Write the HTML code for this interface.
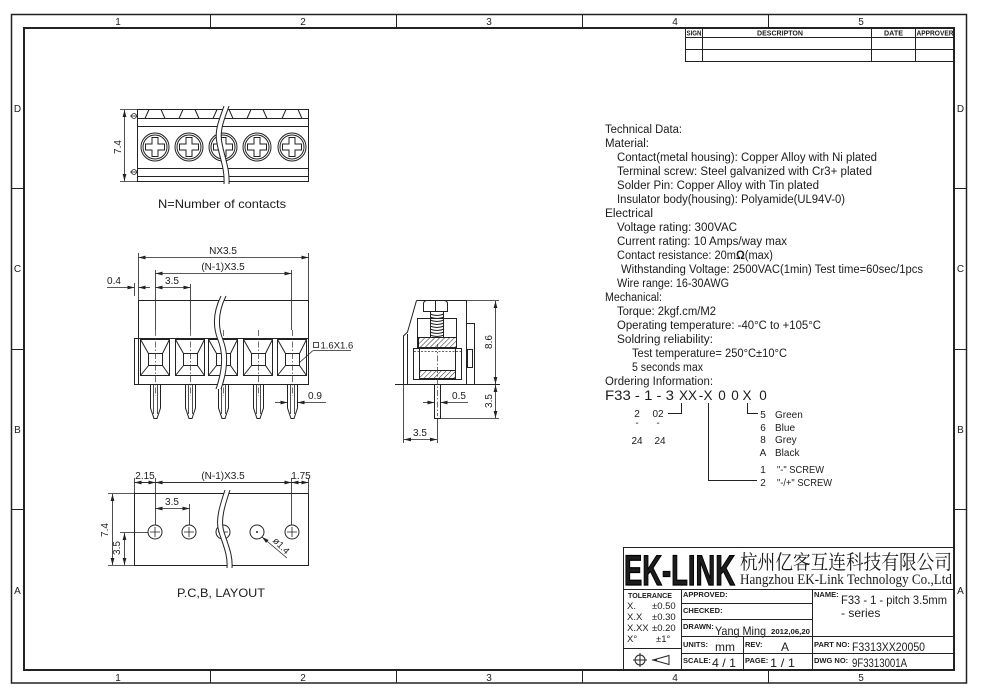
<!DOCTYPE html>
<html><head><meta charset="utf-8"><style>
html,body{margin:0;padding:0;background:#fff;}
svg{display:block;}
text{font-family:"Liberation Sans","Noto Sans CJK SC",sans-serif;fill:#1c1c1c;}
.l{stroke:#222;stroke-width:1;fill:none;}
.d{stroke:#222;stroke-width:0.8;fill:none;}
.dash{stroke:#333;stroke-width:0.7;fill:none;stroke-dasharray:6 2 1.5 2;}
.b{font-weight:bold;font-size:7.5px;}
</style></head><body>
<svg width="981" height="695" viewBox="0 0 981 695" xmlns="http://www.w3.org/2000/svg">
<defs>
<marker id="a" markerWidth="7" markerHeight="6" refX="7" refY="3" orient="auto-start-reverse" markerUnits="userSpaceOnUse"><path d="M0,1.1 L7,3 L0,4.9z" fill="#222"/></marker>
<pattern id="h" width="3.5" height="3.5" patternUnits="userSpaceOnUse" patternTransform="rotate(45)"><line x1="0" y1="0" x2="0" y2="3.5" stroke="#222" stroke-width="1"/></pattern>
</defs>
<rect width="981" height="695" fill="#fff"/>

<!-- Borders -->
<rect x="11.5" y="14.5" width="955" height="668.5" fill="none" stroke="#222" stroke-width="1.5"/>
<rect x="24" y="28" width="930" height="642" fill="none" stroke="#222" stroke-width="2"/>
<g class="l">
<line x1="210.5" y1="14" x2="210.5" y2="28"/><line x1="396.5" y1="14" x2="396.5" y2="28"/><line x1="582.5" y1="14" x2="582.5" y2="28"/><line x1="768.5" y1="14" x2="768.5" y2="28"/>
<line x1="210.5" y1="670" x2="210.5" y2="683"/><line x1="396.5" y1="670" x2="396.5" y2="683"/><line x1="582.5" y1="670" x2="582.5" y2="683"/><line x1="768.5" y1="670" x2="768.5" y2="683"/>
<line x1="11" y1="188.5" x2="24" y2="188.5"/><line x1="11" y1="349.5" x2="24" y2="349.5"/><line x1="11" y1="509.5" x2="24" y2="509.5"/>
<line x1="954" y1="188.5" x2="967" y2="188.5"/><line x1="954" y1="349.5" x2="967" y2="349.5"/><line x1="954" y1="509.5" x2="967" y2="509.5"/>
</g>
<g font-size="10" text-anchor="middle">
<text x="118" y="25">1</text><text x="303" y="25">2</text><text x="489" y="25">3</text><text x="675" y="25">4</text><text x="861" y="25">5</text>
<text x="118" y="681">1</text><text x="303" y="681">2</text><text x="489" y="681">3</text><text x="675" y="681">4</text><text x="861" y="681">5</text>
<text x="17.5" y="112">D</text><text x="17.5" y="272">C</text><text x="17.5" y="433">B</text><text x="17.5" y="594">A</text>
<text x="960.5" y="112">D</text><text x="960.5" y="272">C</text><text x="960.5" y="433">B</text><text x="960.5" y="594">A</text>
</g>

<!-- Revision table -->
<g class="l">
<rect x="685.5" y="28.5" width="269" height="33"/>
<line x1="685" y1="37.5" x2="954" y2="37.5"/>
<line x1="685" y1="49.5" x2="954" y2="49.5"/>
<line x1="702.5" y1="28" x2="702.5" y2="61"/>
<line x1="871.5" y1="28" x2="871.5" y2="61"/>
<line x1="915.5" y1="28" x2="915.5" y2="61"/>
</g>
<g font-weight="bold" font-size="7">
<text x="686.5" y="35.5" textLength="15" lengthAdjust="spacingAndGlyphs">SIGN</text>
<text x="757" y="35.5" textLength="46" lengthAdjust="spacingAndGlyphs">DESCRIPTON</text>
<text x="884" y="35.5" textLength="19" lengthAdjust="spacingAndGlyphs">DATE</text>
<text x="916.5" y="35.5" textLength="37" lengthAdjust="spacingAndGlyphs">APPROVER</text>
</g>

<!-- TOP VIEW -->
<g class="l">
<rect x="137.5" y="109.5" width="171" height="72"/>
<line x1="137" y1="118.5" x2="309" y2="118.5"/>
<line x1="137" y1="126.5" x2="309" y2="126.5"/>
<line x1="137" y1="168.5" x2="309" y2="168.5"/>
<line x1="137" y1="176.5" x2="309" y2="176.5"/>
<line x1="145" y1="118.5" x2="149" y2="109.5"/>
<line x1="161" y1="109.5" x2="165" y2="118.5"/><line x1="179" y1="118.5" x2="183" y2="109.5"/>
<line x1="195" y1="109.5" x2="199" y2="118.5"/><line x1="213" y1="118.5" x2="217" y2="109.5"/>
<line x1="229" y1="109.5" x2="233" y2="118.5"/><line x1="247" y1="118.5" x2="251" y2="109.5"/>
<line x1="263" y1="109.5" x2="267" y2="118.5"/><line x1="282" y1="118.5" x2="286" y2="109.5"/>
<line x1="298" y1="109.5" x2="302" y2="118.5"/>
</g>
<g class="l">
<circle cx="155" cy="147" r="14"/><circle cx="155" cy="147" r="12"/>
<path d="M152,137.5h6v6.5h6.5v6h-6.5v6.5h-6v-6.5h-6.5v-6h6.5z"/>
<circle cx="189" cy="147" r="14"/><circle cx="189" cy="147" r="12"/>
<path d="M186,137.5h6v6.5h6.5v6h-6.5v6.5h-6v-6.5h-6.5v-6h6.5z"/>
<circle cx="223" cy="147" r="14"/><circle cx="223" cy="147" r="12"/>
<path d="M220,137.5h6v6.5h6.5v6h-6.5v6.5h-6v-6.5h-6.5v-6h6.5z"/>
<circle cx="257" cy="147" r="14"/><circle cx="257" cy="147" r="12"/>
<path d="M254,137.5h6v6.5h6.5v6h-6.5v6.5h-6v-6.5h-6.5v-6h6.5z"/>
<circle cx="292" cy="147" r="14"/><circle cx="292" cy="147" r="12"/>
<path d="M289,137.5h6v6.5h6.5v6h-6.5v6.5h-6v-6.5h-6.5v-6h6.5z"/>
</g>
<path d="M224,106 C220,118 214,130 217,143 C219,156 225,168 224,184 L229,184 C230,168 224,156 222,143 C219,130 225,118 229,106 Z" fill="#fff"/>
<path class="l" d="M224,106 C220,118 214,130 217,143 C219,156 225,168 224,184"/>
<path class="l" d="M229,106 C225,118 219,130 222,143 C224,156 230,168 229,184"/>
<g class="d">
<line x1="120" y1="109.5" x2="137" y2="109.5"/>
<line x1="120" y1="181.5" x2="137" y2="181.5"/>
<line x1="124.5" y1="110" x2="124.5" y2="181" marker-start="url(#a)" marker-end="url(#a)"/>
<circle cx="134" cy="116" r="2.5"/><line x1="130" y1="116" x2="137" y2="116"/>
<circle cx="134" cy="172" r="2.5"/><line x1="130" y1="172" x2="137" y2="172"/>
</g>
<text transform="translate(121,147) rotate(-90)" text-anchor="middle" font-size="10">7.4</text>
<text x="222" y="208" text-anchor="middle" font-size="12" textLength="128" lengthAdjust="spacingAndGlyphs">N=Number of contacts</text>

<!-- FRONT VIEW -->
<g class="d">
<line x1="138.5" y1="257.5" x2="308.5" y2="257.5" marker-start="url(#a)" marker-end="url(#a)"/>
<line x1="155.5" y1="273.5" x2="291.5" y2="273.5" marker-start="url(#a)" marker-end="url(#a)"/>
<line x1="155.5" y1="287.5" x2="190.5" y2="287.5" marker-start="url(#a)" marker-end="url(#a)"/>
<line x1="107" y1="287.5" x2="134.5" y2="287.5" marker-end="url(#a)"/>
<line x1="150" y1="287.5" x2="138.5" y2="287.5" marker-end="url(#a)"/>
<line x1="138.5" y1="253" x2="138.5" y2="300"/>
<line x1="308.5" y1="253" x2="308.5" y2="300"/>
<line x1="155.5" y1="270" x2="155.5" y2="330"/>
<line x1="190.5" y1="284" x2="190.5" y2="330"/>
<line x1="291.5" y1="270" x2="291.5" y2="330"/>
<line x1="134.5" y1="283" x2="134.5" y2="296"/>
</g>
<g font-size="10" text-anchor="middle">
<text x="223" y="254">NX3.5</text>
<text x="223" y="270">(N-1)X3.5</text>
<text x="172" y="284">3.5</text>
<text x="114" y="284">0.4</text>
</g>
<g class="l">
<line x1="138" y1="300.5" x2="309" y2="300.5"/>
<line x1="138.5" y1="300" x2="138.5" y2="385"/>
<line x1="308.5" y1="300" x2="308.5" y2="385"/>
<line x1="134.5" y1="338" x2="134.5" y2="385"/>
<line x1="134" y1="338.5" x2="309" y2="338.5"/>
<line x1="134" y1="384.5" x2="309" y2="384.5"/>
</g>
<g class="l">
<rect x="140.5" y="339.5" width="29" height="36"/><rect x="148.5" y="353.5" width="14" height="12"/>
<path d="M140.5,339.5L148.5,353.5M169.5,339.5L162.5,353.5M140.5,375.5L148.5,365.5M169.5,375.5L162.5,365.5"/>
<rect x="175.5" y="339.5" width="29" height="36"/><rect x="183.5" y="353.5" width="14" height="12"/>
<path d="M175.5,339.5L183.5,353.5M204.5,339.5L197.5,353.5M175.5,375.5L183.5,365.5M204.5,375.5L197.5,365.5"/>
<rect x="208.5" y="339.5" width="29" height="36"/><rect x="216.5" y="353.5" width="14" height="12"/>
<path d="M208.5,339.5L216.5,353.5M237.5,339.5L230.5,353.5M208.5,375.5L216.5,365.5M237.5,375.5L230.5,365.5"/>
<rect x="243.5" y="339.5" width="29" height="36"/><rect x="251.5" y="353.5" width="14" height="12"/>
<path d="M243.5,339.5L251.5,353.5M272.5,339.5L265.5,353.5M243.5,375.5L251.5,365.5M272.5,375.5L265.5,365.5"/>
<rect x="277.5" y="339.5" width="29" height="36"/><rect x="285.5" y="353.5" width="14" height="12"/>
<path d="M277.5,339.5L285.5,353.5M306.5,339.5L299.5,353.5M277.5,375.5L285.5,365.5M306.5,375.5L299.5,365.5"/>
</g>
<g class="l">
<path d="M150.5,384.5V408L154,418.5H157L160.5,408V384.5"/><path class="d" d="M153.5,385V414M157.5,385V414"/>
<path d="M185.5,384.5V408L189,418.5H192L195.5,408V384.5"/><path class="d" d="M188.5,385V414M192.5,385V414"/>
<path d="M218.5,384.5V408L222,418.5H225L228.5,408V384.5"/><path class="d" d="M221.5,385V414M225.5,385V414"/>
<path d="M253.5,384.5V408L257,418.5H260L263.5,408V384.5"/><path class="d" d="M256.5,385V414M260.5,385V414"/>
<path d="M287.5,384.5V408L291,418.5H294L297.5,408V384.5"/><path class="d" d="M290.5,385V414M294.5,385V414"/>
</g>
<g class="dash">
<line x1="155.5" y1="330" x2="155.5" y2="396"/>
<line x1="190.5" y1="330" x2="190.5" y2="396"/>
<line x1="223.5" y1="330" x2="223.5" y2="396"/>
<line x1="258.5" y1="330" x2="258.5" y2="396"/>
<line x1="292.5" y1="330" x2="292.5" y2="396"/>
</g>
<path d="M221,296 C214,310 212,325 218,340 C224,355 222,372 216,389 L221,389 C227,372 229,355 223,340 C217,325 219,310 226,296 Z" fill="#fff"/>
<path class="l" d="M221,296 C214,310 212,325 218,340 C224,355 222,372 216,389"/>
<path class="l" d="M226,296 C219,310 217,325 223,340 C229,355 227,372 221,389"/>
<g class="d">
<line x1="275" y1="402.5" x2="287.5" y2="402.5" marker-end="url(#a)"/>
<line x1="326" y1="402.5" x2="297.5" y2="402.5" marker-end="url(#a)"/>
<rect x="313.5" y="342.5" width="5" height="5"/>
<line x1="313" y1="350.5" x2="351" y2="350.5"/>
<line x1="313" y1="350.5" x2="299" y2="363"/>
</g>
<text x="315" y="399" text-anchor="middle" font-size="10">0.9</text>
<text x="320.5" y="348.5" font-size="9.5">1.6X1.6</text>

<!-- SIDE VIEW -->
<g class="l">
<path d="M416.5,300.5 H466.5 V384.5 M466.5,323.5 H474.5 V384.5 M416.5,300.5 L407.5,332 L403.5,336 V384.5"/>
<line x1="407.5" y1="334" x2="407.5" y2="384"/>
<line x1="395" y1="384.5" x2="500" y2="384.5"/>
<path d="M423.5,311.5 V304 Q423.5,300.5 427,300.5 H444 Q447.5,300.5 447.5,304 V311.5 Z"/>
<line x1="435.5" y1="301" x2="435.5" y2="311"/>
<line x1="417.5" y1="318.5" x2="456.5" y2="318.5"/>
<line x1="417.5" y1="318" x2="417.5" y2="348"/>
<line x1="456.5" y1="318" x2="456.5" y2="348"/>
<path d="M430,314 Q437,317 444,314 M430,317 Q437,320 444,317 M430,320 Q437,323 444,320 M430,323 Q437,326 444,323 M430,326 Q437,329 444,326 M430,329 Q437,332 444,329 M430,332 Q437,335 444,332 M430,335 Q437,338 444,335"/>
<line x1="430.5" y1="312" x2="430.5" y2="337"/>
<line x1="443.5" y1="312" x2="443.5" y2="337"/>
<rect x="418.5" y="337.5" width="38" height="10" fill="url(#h)"/>
<rect x="413.5" y="348.5" width="48" height="31"/>
<line x1="419.5" y1="348" x2="419.5" y2="380"/>
<line x1="455.5" y1="348" x2="455.5" y2="380"/>
<rect x="419.5" y="370.5" width="36" height="8" fill="url(#h)"/>
<rect x="467.5" y="349.5" width="5" height="18"/>
<rect x="434.5" y="384.5" width="6" height="34"/>
</g>
<line class="dash" x1="437.5" y1="344" x2="437.5" y2="416"/>
<line x1="414" y1="351.5" x2="461" y2="351.5" stroke="#333" stroke-width="0.7" stroke-dasharray="2 1.5"/>
<g class="d">
<line x1="467" y1="300.5" x2="499" y2="300.5"/>
<line x1="441" y1="418.5" x2="499" y2="418.5"/>
<line x1="495.5" y1="301" x2="495.5" y2="384" marker-start="url(#a)" marker-end="url(#a)"/>
<line x1="495.5" y1="385" x2="495.5" y2="418" marker-start="url(#a)" marker-end="url(#a)"/>
<line x1="423" y1="402.5" x2="434.5" y2="402.5" marker-end="url(#a)"/>
<line x1="468" y1="402.5" x2="440.5" y2="402.5" marker-end="url(#a)"/>
<line x1="403.5" y1="384" x2="403.5" y2="443"/>
<line x1="437.5" y1="418" x2="437.5" y2="443"/>
<line x1="404" y1="439.5" x2="437" y2="439.5" marker-start="url(#a)" marker-end="url(#a)"/>
</g>
<text transform="translate(492,342) rotate(-90)" text-anchor="middle" font-size="10">8.6</text>
<text transform="translate(492,401) rotate(-90)" text-anchor="middle" font-size="10">3.5</text>
<text x="459" y="399" text-anchor="middle" font-size="10">0.5</text>
<text x="420" y="436" text-anchor="middle" font-size="10">3.5</text>

<!-- TECHNICAL DATA -->
<g font-size="11.5">
<text x="605" y="133" textLength="77" lengthAdjust="spacingAndGlyphs">Technical Data:</text>
<text x="605" y="147" textLength="44" lengthAdjust="spacingAndGlyphs">Material:</text>
<text x="617" y="161" textLength="260" lengthAdjust="spacingAndGlyphs">Contact(metal housing): Copper Alloy with Ni plated</text>
<text x="617" y="175" textLength="255" lengthAdjust="spacingAndGlyphs">Terminal screw: Steel galvanized with Cr3+ plated</text>
<text x="617" y="189" textLength="202" lengthAdjust="spacingAndGlyphs">Solder Pin: Copper Alloy with Tin plated</text>
<text x="617" y="203" textLength="228" lengthAdjust="spacingAndGlyphs">Insulator body(housing): Polyamide(UL94V-0)</text>
<text x="605" y="217" textLength="48" lengthAdjust="spacingAndGlyphs">Electrical</text>
<text x="617" y="231" textLength="120" lengthAdjust="spacingAndGlyphs">Voltage rating: 300VAC</text>
<text x="617" y="245" textLength="170" lengthAdjust="spacingAndGlyphs">Current rating: 10 Amps/way max</text>
<text x="617" y="259" textLength="156" lengthAdjust="spacingAndGlyphs">Contact resistance: 20m<tspan font-weight="bold">Ω</tspan>(max)</text>
<text x="621" y="273" textLength="302" lengthAdjust="spacingAndGlyphs">Withstanding Voltage: 2500VAC(1min) Test time=60sec/1pcs</text>
<text x="617" y="287" textLength="112" lengthAdjust="spacingAndGlyphs">Wire range: 16-30AWG</text>
<text x="605" y="301" textLength="57" lengthAdjust="spacingAndGlyphs">Mechanical:</text>
<text x="617" y="315" textLength="99" lengthAdjust="spacingAndGlyphs">Torque: 2kgf.cm/M2</text>
<text x="617" y="329" textLength="204" lengthAdjust="spacingAndGlyphs">Operating temperature: -40°C to +105°C</text>
<text x="617" y="343" textLength="96" lengthAdjust="spacingAndGlyphs">Soldring reliability:</text>
<text x="632" y="357" textLength="155" lengthAdjust="spacingAndGlyphs">Test temperature= 250°C±10°C</text>
<text x="632" y="371" textLength="71" lengthAdjust="spacingAndGlyphs">5 seconds max</text>
<text x="605" y="385" textLength="108" lengthAdjust="spacingAndGlyphs">Ordering Information:</text>
</g>
<g font-size="13.5">
<text x="605" y="400" textLength="69" lengthAdjust="spacingAndGlyphs">F33 - 1 - 3</text>
<text x="688" y="400" text-anchor="middle">XX</text>
<text x="701" y="400" text-anchor="middle">-</text>
<text x="708" y="400" text-anchor="middle">X</text>
<text x="722" y="400" text-anchor="middle">0</text>
<text x="735" y="400" text-anchor="middle">0</text>
<text x="747" y="400" text-anchor="middle">X</text>
<text x="763" y="400" text-anchor="middle">0</text>
</g>
<g class="l">
<path d="M681.5,403 V413.5 H668"/>
<path d="M708.5,403 V480.5 H757"/>
<path d="M747.5,403 V413.5 H758"/>
</g>
<g font-size="10">
<text x="637" y="417" text-anchor="middle">2</text>
<text x="658" y="417" text-anchor="middle">02</text>
<text x="637" y="426" text-anchor="middle">-</text>
<text x="658" y="426" text-anchor="middle">-</text>
<text x="637" y="444" text-anchor="middle">24</text>
<text x="660" y="444" text-anchor="middle">24</text>
<text x="763" y="418" text-anchor="middle">5</text><text x="775" y="418">Green</text>
<text x="763" y="431" text-anchor="middle">6</text><text x="775" y="431">Blue</text>
<text x="763" y="443" text-anchor="middle">8</text><text x="775" y="443">Grey</text>
<text x="763" y="456" text-anchor="middle">A</text><text x="775" y="456">Black</text>
<text x="763" y="473" text-anchor="middle">1</text><text x="777" y="473" textLength="47" lengthAdjust="spacingAndGlyphs">"-" SCREW</text>
<text x="763" y="486" text-anchor="middle">2</text><text x="777" y="486" textLength="55" lengthAdjust="spacingAndGlyphs">"-/+" SCREW</text>
</g>

<!-- PCB LAYOUT -->
<g class="l">
<rect x="134.5" y="493.5" width="174" height="72"/>
<circle cx="155" cy="532" r="7"/><circle cx="189" cy="532" r="7"/><circle cx="223" cy="532" r="7"/><circle cx="257" cy="532" r="7"/><circle cx="292" cy="532" r="7"/>
</g>
<g class="d">
<path d="M150,532h10M155,527v10M184,532h10M189,527v10M287,532h10M292,527v10M218,532h10M223,527v10"/>
</g>
<circle cx="257" cy="532" r="1" fill="#222"/>
<path d="M225,490 C220,505 215,520 219,532 C223,545 228,555 227,568 L232,568 C233,555 228,545 224,532 C220,520 225,505 230,490 Z" fill="#fff"/>
<path class="l" d="M225,490 C220,505 215,520 219,532 C223,545 228,555 227,568"/>
<path class="l" d="M230,490 C225,505 220,520 224,532 C228,545 233,555 232,568"/>
<g class="d">
<line x1="134.5" y1="482.5" x2="308.5" y2="482.5"/>
<line x1="134.5" y1="482.5" x2="155.5" y2="482.5" marker-start="url(#a)" marker-end="url(#a)"/>
<line x1="155.5" y1="482.5" x2="291.5" y2="482.5" marker-start="url(#a)" marker-end="url(#a)"/>
<line x1="291.5" y1="482.5" x2="308.5" y2="482.5" marker-start="url(#a)" marker-end="url(#a)"/>
<line x1="134.5" y1="478" x2="134.5" y2="493"/>
<line x1="308.5" y1="478" x2="308.5" y2="493"/>
<line x1="155.5" y1="478" x2="155.5" y2="525"/>
<line x1="291.5" y1="478" x2="291.5" y2="525"/>
<line x1="189.5" y1="504" x2="189.5" y2="525"/>
<line x1="155.5" y1="508.5" x2="189.5" y2="508.5" marker-start="url(#a)" marker-end="url(#a)"/>
<line x1="108" y1="493.5" x2="134" y2="493.5"/>
<line x1="108" y1="565.5" x2="134" y2="565.5"/>
<line x1="112.5" y1="494" x2="112.5" y2="565" marker-start="url(#a)" marker-end="url(#a)"/>
<line x1="120" y1="532.5" x2="148" y2="532.5"/>
<line x1="124.5" y1="533" x2="124.5" y2="565" marker-start="url(#a)" marker-end="url(#a)"/>
<line x1="287" y1="558" x2="262" y2="537" marker-end="url(#a)"/>
</g>
<g font-size="10" text-anchor="middle">
<text x="145" y="479">2.15</text>
<text x="223" y="479">(N-1)X3.5</text>
<text x="301" y="479">1.75</text>
<text x="172" y="505">3.5</text>
<text transform="translate(108,530) rotate(-90)">7.4</text>
<text transform="translate(120,548) rotate(-90)">3.5</text>
<text transform="translate(279,548) rotate(45)" font-size="9.5">ø1.4</text>
</g>
<text x="221" y="597" text-anchor="middle" font-size="12" textLength="88" lengthAdjust="spacingAndGlyphs">P.C,B, LAYOUT</text>

<!-- TITLE BLOCK -->
<g class="l">
<rect x="623.5" y="547.5" width="330.5" height="122.5"/>
<line x1="623" y1="589.5" x2="954" y2="589.5"/>
<line x1="681.5" y1="589" x2="681.5" y2="670"/>
<line x1="812.5" y1="589" x2="812.5" y2="670"/>
<line x1="681" y1="603.5" x2="812" y2="603.5"/>
<line x1="681" y1="619.5" x2="812" y2="619.5"/>
<line x1="681" y1="636.5" x2="954" y2="636.5"/>
<line x1="681" y1="653.5" x2="954" y2="653.5"/>
<line x1="743.5" y1="636" x2="743.5" y2="670"/>
<line x1="623" y1="648.5" x2="681" y2="648.5"/>
</g>
<text x="624" y="585" font-size="43" font-weight="bold" fill="#000" stroke="#000" stroke-width="1.2" textLength="111" lengthAdjust="spacingAndGlyphs">EK-LINK</text>
<text x="740" y="569" font-size="20" style="font-family:'Noto Serif CJK SC','Noto Sans CJK SC',serif" textLength="212" lengthAdjust="spacingAndGlyphs">杭州亿客互连科技有限公司</text>
<text x="740" y="584" font-size="15" style="font-family:'Liberation Serif',serif" textLength="212" lengthAdjust="spacingAndGlyphs">Hangzhou EK-Link Technology Co.,Ltd</text>
<g class="b">
<text x="628" y="598" textLength="44" lengthAdjust="spacingAndGlyphs">TOLERANCE</text>
<text x="683" y="597">APPROVED:</text>
<text x="683" y="613">CHECKED:</text>
<text x="683" y="629">DRAWN:</text>
<text x="683" y="647">UNITS:</text>
<text x="745" y="647">REV:</text>
<text x="683" y="663">SCALE:</text>
<text x="745" y="663">PAGE:</text>
<text x="814" y="597">NAME:</text>
<text x="814" y="647">PART NO:</text>
<text x="814" y="663">DWG NO:</text>
<text x="771" y="634" textLength="39" lengthAdjust="spacingAndGlyphs">2012,06,20</text>
</g>
<g font-size="9.5">
<text x="627" y="609">X.</text><text x="652" y="609">±0.50</text>
<text x="627" y="620">X.X</text><text x="652" y="620">±0.30</text>
<text x="627" y="631">X.XX</text><text x="652" y="631">±0.20</text>
<text x="627" y="642">X°</text><text x="656" y="642">±1°</text>
</g>
<g class="l">
<circle cx="640" cy="660" r="5"/><path d="M633,660h14M640,653v14"/>
<path d="M669,655.5 L653,660 L669,664.5 Z M657,660 h-5"/>
</g>
<g font-size="12">
<text x="715" y="635" textLength="51" lengthAdjust="spacingAndGlyphs">Yang Ming</text>
<text x="715" y="651">mm</text>
<text x="785" y="651" text-anchor="middle">A</text>
<text x="712" y="667" textLength="24" lengthAdjust="spacingAndGlyphs">4 / 1</text>
<text x="770" y="667" textLength="25" lengthAdjust="spacingAndGlyphs">1 / 1</text>
<text x="841" y="604" textLength="106" lengthAdjust="spacingAndGlyphs">F33 - 1 - pitch 3.5mm</text>
<text x="841" y="617">- series</text>
<text x="852" y="651" textLength="73" lengthAdjust="spacingAndGlyphs">F3313XX20050</text>
<text x="852" y="667" textLength="55" lengthAdjust="spacingAndGlyphs">9F3313001A</text>
</g>
</svg>
</body></html>
